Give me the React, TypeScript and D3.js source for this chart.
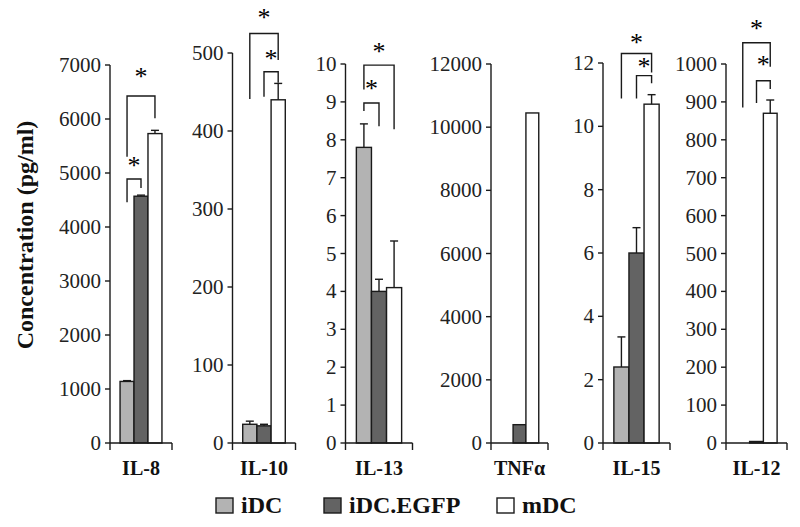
import React from "react";
import * as d3 from "d3";

// ---- data ----
const panels = ["IL-8", "IL-10", "IL-13", "TNFα", "IL-15", "IL-12"];
const series = ["iDC", "iDC.EGFP", "mDC"];
const iDCValues = [1140, 24, 7.8, 0, 2.4, 0];
const egfpValues = [4570, 22, 4.0, 580, 6.0, 4];
const mDCValues = [5730, 440, 4.1, 10450, 10.7, 870];
const iDCErr = [15, 4, 0.62, 0, 0.95, 0];
const egfpErr = [20, 2, 0.32, 0, 0.8, 0];
const mDCErr = [60, 21, 1.23, 0, 0.3, 35];
const yMax = [7000, 500, 10, 12000, 12, 1000];
const yStep = [1000, 100, 1, 2000, 2, 100];

// significance brackets (data units of each panel)
const bracketPanel = [0, 0, 1, 1, 2, 2, 4, 4, 5, 5];
const bracketFrom = [0, 0, 1, 0, 0, 0, 1, 0, 1, 0];
const bracketTo = [1, 2, 2, 2, 1, 2, 2, 2, 2, 2];
const bracketTop = [4890, 6425, 476, 525, 8.97, 9.97, 11.6, 12.3, 956, 1056];
const bracketLeftEnd = [4460, 5300, 444, 441, 8.76, 9.33, 10.88, 10.88, 897, 885];
const bracketRightEnd = [4720, 6015, 462, 491, 8.36, 8.28, 11.36, 11.7, 934, 993];
const bracketStar = [5210, 6860, 497, 550, 9.44, 10.42, 12.0, 12.75, 1008, 1103];

// ---- layout ----
const W = 800;
const H = 527;
const panelLeft = [110, 232.5, 345.5, 491, 603, 726];
const panelRight = [172, 295.5, 412.5, 548, 670, 787];
const panelTop = [65, 53, 64, 64, 63, 64];
const baseY = 443;
const colors = ["#b3b3b3", "#636363", "#ffffff"];
const ink = "#1a1a1a";
const serif = "'Liberation Serif', 'Times New Roman', serif";

export default function App() {
  const seriesValues = [iDCValues, egfpValues, mDCValues];
  const seriesErr = [iDCErr, egfpErr, mDCErr];

  const panelEls = panels.map((name, p) => {
    const y = d3.scaleLinear().domain([0, yMax[p]]).range([baseY, panelTop[p]]);
    const x = d3
      .scaleBand<string>()
      .domain(series)
      .range([panelLeft[p], panelRight[p]])
      .paddingInner(0)
      .paddingOuter(0.72);
    const bw = x.bandwidth();
    const ticks = d3.range(0, yMax[p] + yStep[p] / 2, yStep[p]);
    const L = panelLeft[p];
    const R = panelRight[p];
    return (
      <g key={name}>
        {series.map((s, i) => {
          const v = seriesValues[i][p];
          if (v <= 0) return null;
          const x0 = x(s)!;
          return (
            <rect
              key={s}
              x={x0}
              y={y(v)}
              width={bw}
              height={baseY - y(v)}
              fill={colors[i]}
              stroke={ink}
              strokeWidth={1.4}
            />
          );
        })}
        {series.map((s, i) => {
          const v = seriesValues[i][p];
          const e = seriesErr[i][p];
          if (e <= 0) return null;
          const cx = x(s)! + bw / 2;
          return (
            <g key={s + "e"} stroke={ink} strokeWidth={1.4}>
              <line x1={cx} x2={cx} y1={y(v)} y2={y(v + e)} />
              <line x1={cx - 4} x2={cx + 4} y1={y(v + e)} y2={y(v + e)} />
            </g>
          );
        })}
        <line x1={L} x2={L} y1={panelTop[p]} y2={baseY + 7} stroke={ink} strokeWidth={1.4} />
        {ticks.map((t) => (
          <g key={t}>
            <line x1={L - 5} x2={L} y1={y(t)} y2={y(t)} stroke={ink} strokeWidth={1.4} />
            <text
              x={L - 9}
              y={y(t)}
              textAnchor="end"
              dominantBaseline="central"
              fontFamily={serif}
              fontSize={21}
              fill="#222"
            >
              {t}
            </text>
          </g>
        ))}
        <line x1={L} x2={R} y1={baseY} y2={baseY} stroke={ink} strokeWidth={1.4} />
        <line x1={R} x2={R} y1={baseY} y2={baseY + 7} stroke={ink} strokeWidth={1.4} />
        <text
          x={(L + R) / 2}
          y={475}
          textAnchor="middle"
          fontFamily={serif}
          fontWeight="bold"
          fontSize={20}
          fill="#111"
        >
          {name}
        </text>
      </g>
    );
  });

  const bracketEls = bracketPanel.map((p, k) => {
    const y = d3.scaleLinear().domain([0, yMax[p]]).range([baseY, panelTop[p]]);
    const x = d3
      .scaleBand<string>()
      .domain(series)
      .range([panelLeft[p], panelRight[p]])
      .paddingInner(0)
      .paddingOuter(0.72);
    const bw = x.bandwidth();
    const xa = x(series[bracketFrom[k]])! + bw / 2;
    const xb = x(series[bracketTo[k]])! + bw / 2;
    const path = d3.path();
    path.moveTo(xa, y(bracketLeftEnd[k]));
    path.lineTo(xa, y(bracketTop[k]));
    path.lineTo(xb, y(bracketTop[k]));
    path.lineTo(xb, y(bracketRightEnd[k]));
    return (
      <g key={"b" + k}>
        <path d={path.toString()} fill="none" stroke={ink} strokeWidth={1.4} />
        <text
          x={(xa + xb) / 2}
          y={y(bracketStar[k]) + 12}
          textAnchor="middle"
          fontFamily={serif}
          fontSize={26}
          fill="#000"
        >
          *
        </text>
      </g>
    );
  });

  const legendX = [216, 324, 497];

  return (
    <svg
      width={W}
      height={H}
      style={{ position: "absolute", left: 0, top: 0, background: "#fff" }}
    >
      <rect x={0} y={0} width={W} height={H} fill="#fff" />
      <text
        transform={`translate(33, 235) rotate(-90)`}
        textAnchor="middle"
        fontFamily={serif}
        fontWeight="bold"
        fontSize={24}
        fill="#111"
      >
        Concentration (pg/ml)
      </text>
      {panelEls}
      {bracketEls}
      {series.map((s, i) => (
        <g key={"lg" + s}>
          <rect
            x={legendX[i]}
            y={498}
            width={17}
            height={15}
            fill={colors[i]}
            stroke={ink}
            strokeWidth={1.4}
          />
          <text
            x={legendX[i] + 25}
            y={513}
            fontFamily={serif}
            fontWeight="bold"
            fontSize={24}
            fill="#111"
          >
            {s}
          </text>
        </g>
      ))}
    </svg>
  );
}
